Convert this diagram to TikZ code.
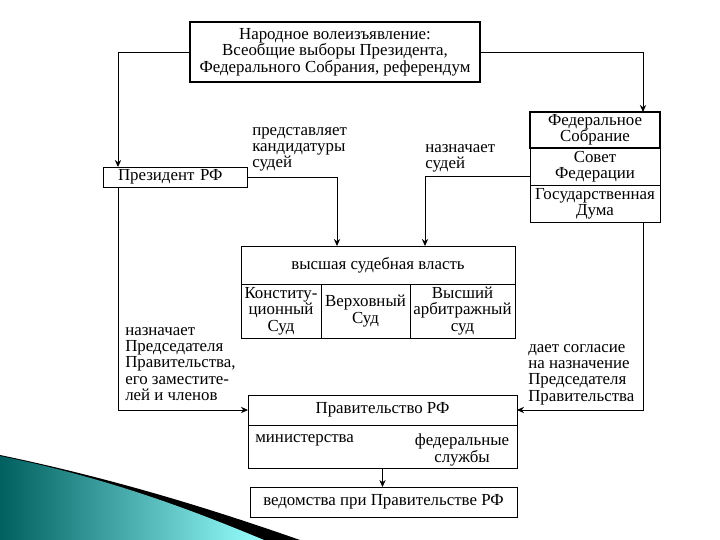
\documentclass[tikz,border=0pt]{standalone}
\usepackage{fontspec}
\setmainfont{Liberation Serif}
\usetikzlibrary{arrows.meta,positioning,calc}

\tikzset{
  fs/.style={font=\fontsize{12}{11.6}\selectfont},
  blk/.style={draw,line width=0.6pt,inner sep=1pt,outer sep=0pt,align=center,fs},
  lbl/.style={anchor=north west,align=left,inner sep=0pt,fs},
  conn/.style={->,line width=0.6pt}
}

\begin{document}
\begin{tikzpicture}[>={Stealth[length=5pt,width=4.5pt]}]
\useasboundingbox (0,0) rectangle (18,-13.5);
% slide swoosh
\fill[black] (0,-11.375) .. controls (3,-12.0) and (5.5,-12.8) .. (7.5,-13.5) -- (0,-13.5) -- cycle;
\shade[left color=teal!75!black,right color=cyan!40] (0,-11.40) .. controls (2.7,-11.95) and (4.8,-12.75) .. (6.6,-13.5) -- (0,-13.5) -- cycle;

% top
\node[blk,line width=1pt,minimum width=7.25cm,minimum height=1.5cm] (vote) at (8.375,-1.3)
  {Народное волеизъявление:\\Всеобщие выборы Президента,\\Федерального Собрания, референдум};

% assembly
\node[blk,line width=0.9pt,minimum width=3.25cm,minimum height=0.9cm] (fa) at (14.875,-3.25) {Федеральное\\Собрание};
\node[blk,minimum width=3.25cm,minimum height=0.925cm,below=0pt of fa] (sf) {Совет\\Федерации};
\node[blk,minimum width=3.25cm,minimum height=0.925cm,below=0pt of sf] (gd) {Государственная\\Дума};

% president
\node[blk,minimum width=3.6cm,minimum height=0.5cm,align=left,text width=2.85cm] (pres) at (4.375,-4.425) {Президент РФ};

% courts
\node[blk,minimum width=6.85cm,minimum height=0.95cm] (sup) at (9.45,-6.625) {высшая судебная власть};
\node[blk,minimum width=2.0cm,minimum height=1.35cm,anchor=north west] (ks) at (sup.south west) {Конститу-\\ционный\\Суд};
\node[blk,minimum width=2.225cm,minimum height=1.35cm,anchor=north west] (vs) at (ks.north east) {Верховный\\Суд};
\node[blk,minimum width=2.625cm,minimum height=1.35cm,anchor=north west] (vas) at (vs.north east) {Высший\\арбитражный\\суд};

% government
\node[blk,minimum width=6.725cm,minimum height=0.75cm] (gov) at (9.5625,-10.25) {Правительство РФ};
\node[blk,minimum width=6.725cm,minimum height=1.075cm,below=0pt of gov] (govl) {};
\node[lbl] (min) at (6.375,-10.85) {министерства};
\node[fs,align=center,anchor=north,inner sep=0pt] (fed) at (11.55,-10.85) {федеральные\\службы};
\node[blk,minimum width=6.675cm,minimum height=0.75cm] (bot) at (9.5875,-12.55) {ведомства при Правительстве РФ};

% labels
\node[lbl] (lbpres) at (6.3,-3.175) {представляет\\кандидатуры\\судей};
\node[lbl] (lbsf) at (10.625,-3.6) {назначает\\судей};
\node[lbl] (lbgov) at (3.125,-8.175) {назначает\\Председателя\\Правительства,\\его заместите-\\лей и членов};
\node[lbl] (lbgd) at (13.2,-8.6) {дает согласие\\на назначение\\Председателя\\Правительства};

% connectors
\coordinate (inL) at ($(sup.north west)+(2.4,0)$);
\coordinate (inR) at ($(sup.north west)+(4.6,0)$);
\draw[conn] (vote.west) -| ($(pres.north west)+(0.375,0)$);
\draw[conn] (vote.east) -| ($(fa.north east)+(-0.425,0)$);
\draw[conn] (pres.east) -| (inL);
\draw[conn] ($(sf.west)+(0,-0.25)$) -| (inR);
\draw[conn] ($(pres.south west)+(0.375,0)$) |- (gov.west);
\draw[conn] ($(gd.south east)+(-0.425,0)$) |- (gov.east);
\draw[conn] (govl.south) -- (govl.south |- bot.north);
\end{tikzpicture}
\end{document}
